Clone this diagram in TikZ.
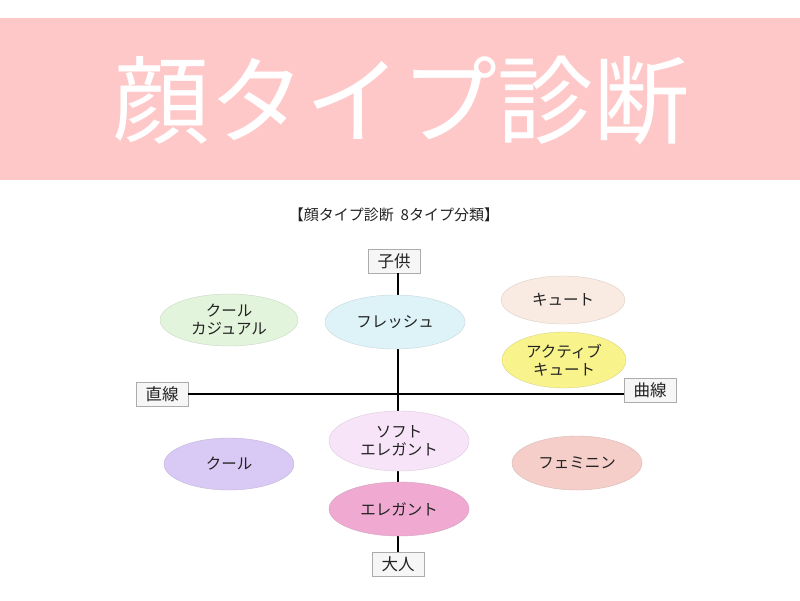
\documentclass[tikz,border=0pt]{standalone}
\usepackage{fontspec}
\setmainfont{Noto Sans CJK JP}
\usetikzlibrary{shapes.geometric}

\definecolor{banner}{HTML}{FFC8C8}
\definecolor{ink}{HTML}{222222}
\definecolor{ccasual}{HTML}{E3F4DC}
\definecolor{cfresh}{HTML}{DDF3F8}
\definecolor{ccute}{HTML}{F9EAE2}
\definecolor{cactive}{HTML}{F8F38A}
\definecolor{csoft}{HTML}{F8E4F8}
\definecolor{ccool}{HTML}{D9C9F5}
\definecolor{cfemi}{HTML}{F5CDC9}
\definecolor{celeg}{HTML}{F0AAD2}

\tikzset{
  typeoval/.style={ellipse, draw=#1!75!gray, fill=#1, inner sep=0pt,
    align=center, text=ink, font=\fontsize{15.5}{18}\selectfont},
  axisbox/.style={draw=gray!65, fill=gray!7, minimum width=52pt,
    minimum height=24pt, inner sep=0pt, text=ink,
    font=\fontsize{16.5}{16.5}\selectfont},
}

\begin{document}
\begin{tikzpicture}[x=1pt,y=-1pt]
          \useasboundingbox (0,0) rectangle (800,600);
          \fill[white] (0,0) rectangle (800,600);
          \fill[banner] (0,18) rectangle (800,180);
          \node[text=white, font=\fontsize{96}{96}\selectfont] (title) at (401,100) {顔タイプ診断};
          \node[text=ink, font=\fontsize{15}{15}\selectfont] (subtitle) at (394,215) {【顔タイプ診断\ \ 8タイプ分類】};
          % axis labels
          \node[axisbox] (child) at (394,261) {子供};
          \node[axisbox] (adult) at (398,564) {大人};
          \node[axisbox] (straight) at (162,394) {直線};
          \node[axisbox] (curve) at (650,390) {曲線};
          \draw[line width=1.4pt] (child.south -| 398,0) -- (adult.north -| 398,0);
          \draw[line width=1.4pt] (straight.east) -- (curve.west |- straight.east);
          % the eight types
          \foreach \n/\x/\y/\w/\h/\c/\t in {
              casual/229/320/138/52/ccasual/{クール\\カジュアル},
              fresh/395/322/140/54/cfresh/{フレッシュ},
              cute/563/300/124/48/ccute/{キュート},
              active/564/360/124/56/cactive/{アクティブ\\キュート},
              soft/399/441/140/60/csoft/{ソフト\\エレガント},
              cool/229/464/130/52/ccool/{クール},
              femi/577/463/130/54/cfemi/{フェミニン},
              eleg/399/509/140/54/celeg/{エレガント}}{
            \node[typeoval=\c, minimum width=\w pt, minimum height=\h pt] (\n) at (\x,\y) {\t};}
        \end{tikzpicture}
\end{document}
